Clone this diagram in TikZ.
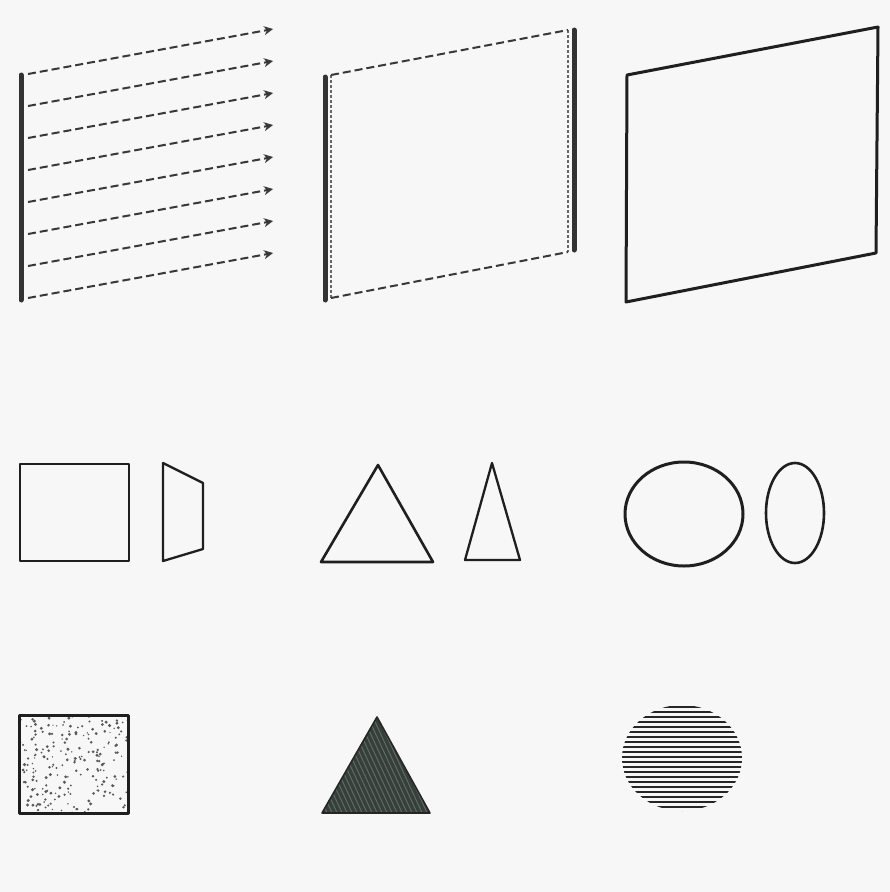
\documentclass[tikz,border=0pt]{standalone}
\usetikzlibrary{arrows.meta}
\definecolor{tri}{HTML}{35403A}
\begin{document}
\begin{tikzpicture}[x=1pt,y=-1pt,
  ink/.style={draw=black!88,line width=2.6pt,line join=round},
  bar/.style={draw=black!80,line width=5pt,line cap=round},
  dashline/.style={draw=black!78,line width=2pt,dash pattern=on 8pt off 4pt},
  arrowline/.style={dashline,-{Stealth[length=9pt,width=9pt]}},
  innerdash/.style={draw=black!60,line width=1.6pt,dash pattern=on 3pt off 2pt}]
\fill[black!3] (0,0) rectangle (890,892);
\useasboundingbox (0,0) rectangle (890,892);
% panel 1
\draw[bar] (21,75) -- (21,300);
\foreach \i in {0,...,7}{
  \coordinate (s\i) at (28,{74+32*\i});
  \coordinate (e\i) at (273,{29+32*\i});
  \draw[arrowline] (s\i) -- (e\i);
}
% panel 2
\coordinate (p1) at (331,75);
\coordinate (p2) at (568,30);
\coordinate (p3) at (568,252);
\coordinate (p4) at (331,298);
\draw[bar] (325,77) -- (325,300);
\draw[bar] (574,30) -- (574,250);
\draw[innerdash] (p1) -- (p4);
\draw[innerdash] (p2) -- (p3);
\draw[dashline] (p1) -- (p2);
\draw[dashline] (p4) -- (p3);
% panel 3
\draw[ink,line width=3pt] (627,75) -- (878,27) -- (876,253) -- (626,302) -- cycle;
% row 2
\draw[ink] (20,464) rectangle (129,561);
\draw[ink,line width=2.3pt] (163,463) -- (203,483) -- (203,549) -- (163,561) -- cycle;
\draw[ink] (378,465) -- (433,562) -- (321,562) -- cycle;
\draw[ink,line width=2.3pt] (492,463) -- (520,560) -- (465,560) -- cycle;
\draw[ink,line width=3pt] (684,514) ellipse [x radius=59,y radius=52];
\draw[ink,line width=2.6pt] (795,513) ellipse [x radius=29,y radius=50];
% row 3: stippled square
\pgfmathsetseed{7}
\begin{scope}
\clip (19,715) rectangle (128,813);
\foreach \k in {1,...,220}{
  \pgfmathsetmacro\px{19+109*rnd}
  \pgfmathsetmacro\py{715+98*rnd}
  \pgfmathsetmacro\pr{0.7+1.0*rnd}
  \fill[black!65] (\px,\py) circle [radius=\pr];
}
\end{scope}
\draw[ink,line width=3pt] (19,715) rectangle (128,813);
% row 3: dark hatched triangle
\begin{scope}
\clip (377,717) -- (430,813) -- (322,813) -- cycle;
\fill[tri] (300,700) rectangle (450,830);
\foreach \d in {-120,-115,...,120}{
  \draw[white,opacity=0.22,line width=1pt] ({330+\d},700) -- ({390+\d},830);
}
\end{scope}
\draw[black!85,line width=1.6pt,line join=round] (377,717) -- (430,813) -- (322,813) -- cycle;
% row 3: hatched circle
\begin{scope}
\clip (682,758) ellipse [x radius=60,y radius=53];
\foreach \yy in {707,712,...,812}{
  \draw[black!85,line width=2.2pt] (615,\yy) -- (750,\yy);
}
\end{scope}
\end{tikzpicture}
\end{document}
